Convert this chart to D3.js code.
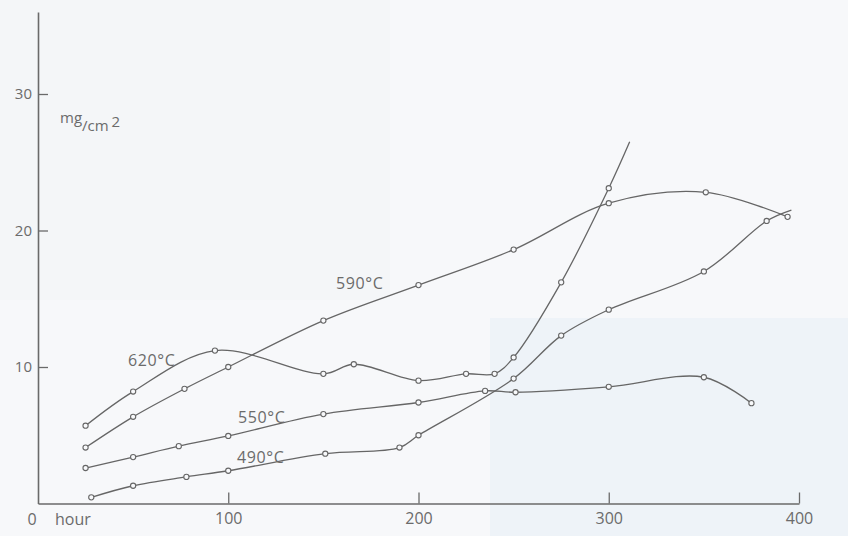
<!DOCTYPE html>
<html>
<head>
<meta charset="utf-8">
<script src="https://cdn.jsdelivr.net/npm/d3@7"></script>
<style>
  html, body { margin: 0; padding: 0; background: #f6f8fa; }
  svg { display: block; }
  text { font-family: "Open Sans", "Liberation Sans", sans-serif; fill: #6b6b6b; }
</style>
</head>
<body>
<svg id="chart" width="848" height="536"></svg>
<script>
// Weight gain (mg/cm²) against exposure time (hours) at four temperatures.
const hours620 = [25, 50, 93, 150, 166, 200, 225, 240, 250, 275, 300];
const mass620  = [5.7, 8.2, 11.2, 9.5, 10.2, 9.0, 9.5, 9.5, 10.7, 16.2, 23.1];
const end620   = [311, 26.5];

const hours590 = [25, 50, 77, 100, 150, 200, 250, 300, 351, 394];
const mass590  = [4.1, 6.35, 8.4, 10.0, 13.4, 16.0, 18.6, 22.0, 22.8, 21.0];

const hours550 = [25, 50, 74, 100, 150, 200, 235, 251, 300, 350, 375];
const mass550  = [2.6, 3.4, 4.2, 4.95, 6.55, 7.4, 8.25, 8.15, 8.55, 9.25, 7.35];

const hours490 = [28, 50, 78, 100, 151, 190, 200, 250, 275, 300, 350, 383];
const mass490  = [0.45, 1.3, 1.95, 2.4, 3.65, 4.1, 5.0, 9.15, 12.3, 14.2, 17.0, 20.7];
const end490   = [396, 21.5];

const yTicks = [10, 20, 30];
const xTicks = [100, 200, 300, 400];
const seriesLabels = ["620°C", "590°C", "550°C", "490°C"];

const svg = d3.select("#chart");

// faint paper tint
svg.append("rect").attr("x", 0).attr("y", 0).attr("width", 848).attr("height", 536).attr("fill", "#f7f8fa");
svg.append("rect").attr("x", 0).attr("y", 0).attr("width", 390).attr("height", 300).attr("fill", "#f4f6f8");
svg.append("rect").attr("x", 490).attr("y", 318).attr("width", 358).attr("height", 218).attr("fill", "#eef3f8");

const x = d3.scaleLinear().domain([0, 400]).range([38, 799]);
const y = d3.scaleLinear().domain([0, 36]).range([503.5, 12.1]);

const axisColor = "#6a6a6a";
const font = "'Open Sans', sans-serif";

// y axis: ticks point inward
const yAxis = svg.append("g")
  .attr("transform", `translate(${x(0)},0)`)
  .call(d3.axisLeft(y).tickValues(yTicks).tickSizeInner(-10).tickSizeOuter(0).tickPadding(6));
yAxis.select(".domain").attr("stroke", axisColor).attr("stroke-width", 1.6);
yAxis.selectAll(".tick line").attr("stroke", axisColor).attr("stroke-width", 1.3);
yAxis.selectAll(".tick text").attr("font-size", 15).attr("fill", "#6b6b6b").style("font-family", font);

// x axis: ticks point upward
const xAxis = svg.append("g")
  .attr("transform", `translate(0,${y(0)})`)
  .call(d3.axisBottom(x).tickValues(xTicks).tickSizeInner(-11).tickSizeOuter(0).tickPadding(9));
xAxis.select(".domain").attr("stroke", axisColor).attr("stroke-width", 1.6);
xAxis.selectAll(".tick line").attr("stroke", axisColor).attr("stroke-width", 1.3);
xAxis.selectAll(".tick text").attr("font-size", 16).attr("fill", "#6b6b6b").style("font-family", font);

svg.append("text").attr("x", 32).attr("y", 525).attr("text-anchor", "middle")
  .attr("font-size", 16).text("0");
svg.append("text").attr("x", 55).attr("y", 525).attr("font-size", 16).text("hour");

// unit label
const unit = svg.append("text").attr("x", 60).attr("y", 131).attr("font-size", 15);
unit.append("tspan").attr("dy", -8).text("mg");
unit.append("tspan").attr("dy", 8).text("/cm");
unit.append("tspan").attr("dx", 3).attr("dy", -4).text("2");

const line = d3.line()
  .x(d => x(d[0]))
  .y(d => y(d[1]))
  .curve(d3.curveCatmullRom.alpha(0.5));

const series = [
  { h: hours620, m: mass620, end: end620 },
  { h: hours590, m: mass590, end: null },
  { h: hours550, m: mass550, end: null },
  { h: hours490, m: mass490, end: end490 }
];

series.forEach(s => {
  const pts = s.h.map((h, i) => [h, s.m[i]]);
  const path = s.end ? pts.concat([s.end]) : pts;
  svg.append("path")
    .attr("d", line(path))
    .attr("fill", "none")
    .attr("stroke", "#666")
    .attr("stroke-width", 1.3);
  svg.append("g").selectAll("circle")
    .data(pts)
    .join("circle")
    .attr("cx", d => x(d[0]))
    .attr("cy", d => y(d[1]))
    .attr("r", 2.6)
    .attr("fill", "#f8f9fb")
    .attr("stroke", "#666")
    .attr("stroke-width", 1.1);
});

// curve labels
const labelPos = [[128, 366], [336, 289], [238, 423], [237, 463]];
seriesLabels.forEach((t, i) => {
  svg.append("text")
    .attr("x", labelPos[i][0])
    .attr("y", labelPos[i][1])
    .attr("font-size", 16)
    .attr("letter-spacing", 0.6)
    .text(t);
});
</script>
</body>
</html>
